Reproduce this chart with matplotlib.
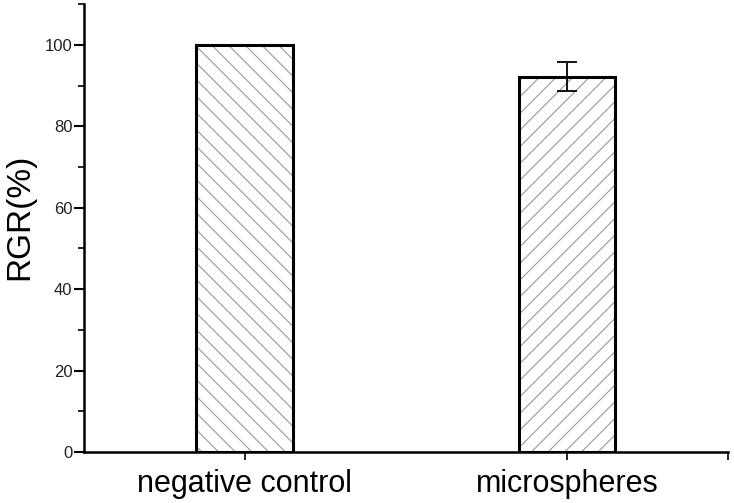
import matplotlib.pyplot as plt
from matplotlib.ticker import MultipleLocator

plt.rcParams['font.family'] = ['Liberation Sans', 'DejaVu Sans']
plt.rcParams['hatch.linewidth'] = 0.8

categories = ['negative control', 'microspheres']
rgr = [100, 92.2]
rgr_err = [0, 3.6]
hatches = ['\\\\', '//']

fig = plt.figure(figsize=(7.34, 5.03), dpi=100)
ax = fig.add_axes([0.114, 0.101, 0.878, 0.891])

x = range(len(categories))
# hatch fill in gray, then black outline on top
ax.bar(x, rgr, width=0.3, color='white', edgecolor='#999999', linewidth=0,
       hatch=hatches, zorder=2)
ax.bar(x, rgr, width=0.3, fill=False, edgecolor='black', linewidth=2.2, zorder=3)
ax.errorbar(1, rgr[1], yerr=rgr_err[1], fmt='none', ecolor='black',
            elinewidth=1.3, capsize=7, capthick=1.3, zorder=4)

ax.set_xlim(-0.5, 1.5)
ax.set_ylim(0, 110)
ax.set_xticks(list(x), categories, fontsize=22)
ax.xaxis.set_minor_locator(plt.FixedLocator([1.5]))
ax.yaxis.set_major_locator(MultipleLocator(20))
ax.yaxis.set_minor_locator(MultipleLocator(10))
ax.tick_params(axis='y', which='major', length=7, width=1.5, labelsize=12,
               labelcolor='#222222', pad=1)
ax.tick_params(axis='y', which='minor', length=4, width=1.2)
ax.tick_params(axis='x', which='both', length=6, width=1.2, pad=6)
ax.set_ylabel('RGR(%)', fontsize=24)
ax.yaxis.set_label_coords(-0.075, 0.525)

for side in ['top', 'right']:
    ax.spines[side].set_visible(False)
for side in ['left', 'bottom']:
    ax.spines[side].set_linewidth(1.8)

fig.savefig('out.png', dpi=100)
